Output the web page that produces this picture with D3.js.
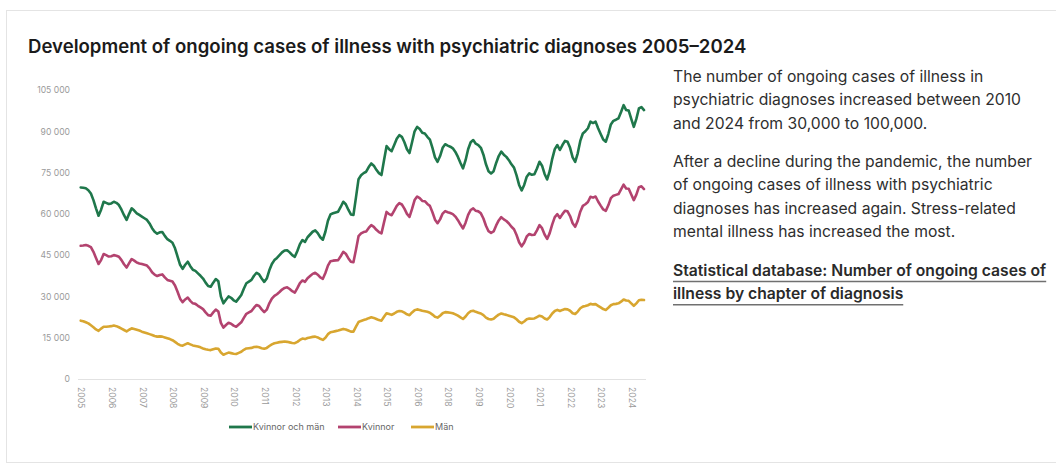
<!DOCTYPE html>
<html>
<head>
<meta charset="utf-8">
<script src="https://cdn.jsdelivr.net/npm/d3@7/dist/d3.min.js"></script>
<style>
  html, body { margin: 0; padding: 0; background: #fff; }
  svg { display: block; font-family: Inter, "Open Sans", sans-serif; }
</style>
</head>
<body>
<svg id="chart" width="1056" height="466"></svg>
<script>
// Monthly counts of ongoing sick-leave cases with psychiatric diagnoses, Jan 2005 onward
const total = [
 69600,69500,69300,68600,67400,65000,62000,59300,61500,64400,64000,63600,
 63800,64400,64000,63200,61500,59500,57800,60000,62000,61200,60200,59600,
 59000,58400,57800,56500,54800,53500,52800,53300,53400,52000,50800,50200,
 49500,47500,44500,41500,40000,41500,42600,41000,39700,39300,38400,37500,
 36500,35000,33800,33500,35000,36300,35500,30000,27500,28800,30000,29500,
 28600,28100,29300,30500,32800,34800,35400,36000,37500,38600,38000,36500,
 35300,36500,39500,41800,43200,44000,45000,46000,46700,46800,46000,45000,
 44400,46500,49000,50500,49800,51500,52500,53500,54000,53000,51500,50600,
 53500,57500,59800,60200,60500,60800,62500,64400,63500,61500,59800,59600,
 66000,72600,74000,74800,75300,77000,78300,77500,76000,74800,74100,79500,
 84600,83500,82800,85000,87300,88600,88000,86000,83500,82100,86000,90000,
 91600,90800,89500,89200,88000,87000,84000,80500,78900,81000,84000,85300,
 84800,84400,83800,82500,80700,78500,76500,79500,83500,86000,86800,85500,
 85000,84000,81500,78000,75500,74700,75500,78500,81000,82600,81500,80700,
 79500,78000,76800,74000,70500,68500,70500,73500,74700,74200,74400,76500,
 78900,77500,74500,72500,75500,80000,83500,85000,83200,85000,86500,86200,
 84000,80500,78900,82000,86500,89200,90000,91100,93500,93000,93500,91100,
 89000,87000,86200,89000,92500,93800,94200,94700,97000,99500,97700,97500,
 94500,91600,94500,98300,98800,97700
];

const women = [
 48400,48500,48700,48400,47900,46200,44000,41800,43200,45400,45000,44500,
 44600,45000,44800,44400,43200,41700,40500,42100,43600,43000,42300,42000,
 41800,41500,41200,40200,38800,37900,37400,37800,38000,36900,36000,35700,
 35400,34000,31700,29200,27900,28900,29600,28400,27500,27300,26600,26000,
 25400,24200,23200,23000,24200,25200,24500,20400,18700,19600,20400,20100,
 19400,19000,19800,20600,22200,23700,24200,24700,25900,26900,26500,25300,
 24300,25200,27500,29200,30200,30800,31600,32500,33100,33300,32700,31900,
 31400,33000,34800,35800,35300,36600,37400,38200,38600,37900,36900,36400,
 38500,41200,42800,43000,43100,43200,44600,46200,45500,43900,42600,42400,
 47000,51900,52900,53400,53600,54900,55900,55300,54200,53400,52900,56900,
 60700,59900,59500,61200,62900,63900,63400,61900,60000,58900,61800,65000,
 66300,65700,64700,64600,63600,62900,60600,57900,56600,58000,60100,61000,
 60600,60300,59900,59000,57700,56100,54700,56800,59600,61400,62000,61100,
 60900,60200,58300,55700,53700,53100,53600,55800,57600,58800,58000,57400,
 56500,55300,54400,52300,49700,48200,49600,51800,52700,52300,52400,54000,
 55900,54800,52500,50900,53000,56200,58800,59900,58500,59900,61100,60900,
 59200,56600,55300,57500,60800,62900,63500,64300,66200,65900,66300,64500,
 63000,61600,61100,63100,65700,66600,66900,67200,68900,70600,69200,69100,
 67000,65000,67000,69700,70000,69000
];

const men = [
 21200,21000,20600,20200,19500,18800,18000,17500,18300,19000,19000,19100,
 19200,19400,19200,18800,18300,17800,17300,17900,18400,18200,17900,17600,
 17200,16900,16600,16300,16000,15600,15400,15500,15400,15100,14800,14500,
 14100,13500,12800,12300,12100,12600,13000,12600,12200,12000,11800,11500,
 11100,10800,10600,10500,10800,11100,11000,9600,8800,9200,9600,9400,
 9200,9100,9500,9900,10600,11100,11200,11300,11600,11700,11500,11200,
 11000,11300,12000,12600,13000,13200,13400,13500,13600,13500,13300,13100,
 13000,13500,14200,14700,14500,14900,15100,15300,15400,15100,14600,14200,
 15000,16300,17000,17200,17400,17600,17900,18200,18000,17600,17200,17200,
 19000,20700,21100,21400,21700,22100,22400,22200,21800,21400,21200,22600,
 23900,23600,23300,23800,24400,24700,24600,24100,23500,23200,24200,25000,
 25300,25100,24800,24600,24400,24100,23400,22600,22300,23000,23900,24300,
 24200,24100,23900,23500,23000,22400,21800,22700,23900,24600,24800,24400,
 24100,23800,23200,22300,21800,21600,21900,22700,23400,23800,23500,23300,
 23000,22700,22400,21700,20800,20300,20900,21700,22000,21900,22000,22500,
 23000,22700,22000,21600,22500,23800,24700,25100,24700,25100,25400,25300,
 24800,23900,23600,24500,25700,26300,26500,26800,27300,27100,27200,26600,
 26000,25400,25100,25900,26800,27200,27300,27500,28100,28900,28500,28400,
 27500,26600,27500,28600,28800,28700
];

// Year labels shown every twelfth month along the axis
const yearLabels = ["2005","2006","2007","2008","2009","2010","2011","2012","2013","2014",
                    "2015","2016","2018","2019","2020","2021","2022","2023","2024"];
const yTicks = [0, 15000, 30000, 45000, 60000, 75000, 90000, 105000];

const seriesNames = ["Kvinnor och män", "Kvinnor", "Män"];
const seriesColors = ["#1f774b", "#b3436f", "#d8a630"];
const seriesData = [total, women, men];

const svg = d3.select("#chart");

// card outline
svg.append("rect")
  .attr("x", 6.5).attr("y", 10.5).attr("width", 1100).attr("height", 452)
  .attr("fill", "#fff").attr("stroke", "#e4e4e4");

svg.append("text")
  .attr("x", 28).attr("y", 52.5)
  .attr("font-size", 18.6).attr("font-weight", 600).attr("fill", "#1b1b1b")
  .text("Development of ongoing cases of illness with psychiatric diagnoses 2005–2024");

const x = d3.scaleLinear().domain([0, total.length - 1]).range([80.7, 644]);
const y = d3.scaleLinear().domain([0, 105000]).range([379, 90]);

// y axis: labels only, no line
const fmt = v => d3.format(",")(v).replace(/,/g, " ");
const yAxis = d3.axisLeft(y).tickValues(yTicks).tickSize(0).tickPadding(0).tickFormat(fmt);
const gy = svg.append("g").attr("transform", "translate(70,0)").call(yAxis);
gy.select(".domain").remove();
gy.selectAll("text").attr("font-size", 8.6).attr("fill", "#9a9a9a")
  .attr("font-family", "Inter, sans-serif");

// x axis baseline and rotated year labels
const tickIdx = yearLabels.map((_, i) => i * 12);
const xAxis = d3.axisBottom(x).tickValues(tickIdx).tickSize(0).tickPadding(0)
  .tickFormat((d, i) => yearLabels[i]);
const gx = svg.append("g").attr("transform", "translate(0,379)").call(xAxis);
gx.select(".domain").attr("stroke", "#e2e2e2").attr("d", "M78,0.5H646");
gx.selectAll("text")
  .attr("font-size", 8.6).attr("fill", "#9a9a9a").attr("font-family", "Inter, sans-serif")
  .attr("transform", "rotate(90)")
  .attr("x", 8).attr("y", 0).attr("dy", "0.32em")
  .attr("text-anchor", "start");

// lines
const line = d3.line().x((d, i) => x(i)).y(d => y(d)).curve(d3.curveLinear);
seriesData.forEach((s, k) => {
  svg.append("path").datum(s)
    .attr("d", line)
    .attr("fill", "none")
    .attr("stroke", seriesColors[k])
    .attr("stroke-width", 2.6)
    .attr("stroke-linejoin", "round")
    .attr("stroke-linecap", "round");
});

// legend
const legendX = [229, 338, 411];
const lg = svg.append("g").attr("transform", "translate(0,427)");
seriesNames.forEach((name, k) => {
  const g = lg.append("g").attr("transform", `translate(${legendX[k]},0)`);
  g.append("line").attr("x1", 0).attr("x2", 23).attr("y1", 0).attr("y2", 0)
    .attr("stroke", seriesColors[k]).attr("stroke-width", 2.8);
  g.append("text").attr("x", 24).attr("y", 0).attr("dy", "0.34em")
    .attr("font-size", 9).attr("fill", "#666").text(name);
});

// side text
const para1 = ["The number of ongoing cases of illness in",
               "psychiatric diagnoses increased between 2010",
               "and 2024 from 30,000 to 100,000."];
const para2 = ["After a decline during the pandemic, the number",
               "of ongoing cases of illness with psychiatric",
               "diagnoses has increased again. Stress-related",
               "mental illness has increased the most."];
const linkLines = ["Statistical database: Number of ongoing cases of",
                   "illness by chapter of diagnosis"];

const side = svg.append("g").attr("font-size", 15.7).attr("fill", "#2e2e2e");
para1.forEach((t, i) => side.append("text").attr("x", 673).attr("y", 82 + i * 23.3).text(t));
para2.forEach((t, i) => side.append("text").attr("x", 673).attr("y", 167 + i * 23.3).text(t));
linkLines.forEach((t, i) => {
  const tx = side.append("text").attr("x", 673).attr("y", 275.5 + i * 23.3)
    .attr("font-weight", 600).attr("fill", "#2a2a2a").text(t);
  const w = tx.node().getComputedTextLength();
  side.append("line").attr("x1", 673).attr("x2", 673 + w)
    .attr("y1", 281.5 + i * 23.3).attr("y2", 281.5 + i * 23.3)
    .attr("stroke", "#707070").attr("stroke-width", 1.5);
});
</script>
</body>
</html>
